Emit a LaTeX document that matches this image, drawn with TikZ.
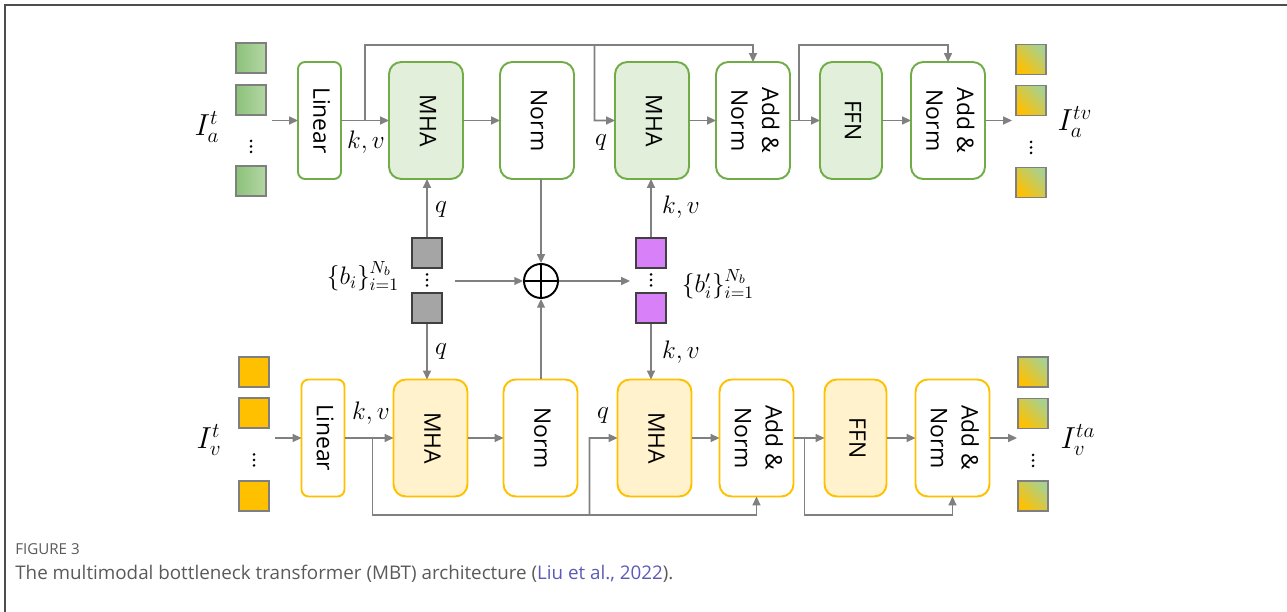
\documentclass[tikz,border=0pt]{standalone}
\usepackage{fontspec}
\setmainfont{Open Sans}
\usepackage{graphicx}
\usepackage{tikz}
\usetikzlibrary{arrows.meta,positioning,calc}
\definecolor{GreenEdge}{HTML}{70AD47}
\definecolor{GreenFill}{HTML}{E2EFDA}
\definecolor{GoldEdge}{HTML}{FFC000}
\definecolor{GoldFill}{HTML}{FFF2CC}
\definecolor{ArrGray}{HTML}{808080}
\definecolor{TokEdge}{HTML}{7F7F7F}
\definecolor{TokGreenL}{HTML}{8CC27A}
\definecolor{TokGreenR}{HTML}{B4D7A4}
\definecolor{TokGreenO}{HTML}{A9D18E}
\definecolor{TokGold}{HTML}{FFC000}
\definecolor{BotGray}{HTML}{A5A5A5}
\definecolor{BotPurple}{HTML}{D780F7}
\definecolor{DarkEdge}{HTML}{404040}
\definecolor{CapGray}{HTML}{5A5A5A}
\definecolor{CiteBlue}{HTML}{5B5BB5}
\definecolor{FrameGray}{HTML}{4D4D4D}
\newcommand{\vlabel}[1]{\rotatebox{-90}{\begin{tabular}{@{}c@{}}#1\end{tabular}}}
\tikzset{
  blk/.style={rounded corners=7pt, line width=1.1pt, minimum height=2.34cm, outer sep=0pt,
              inner sep=0pt, font=\fontsize{13}{17.5}\selectfont},
  linblk/.style={blk, rounded corners=4pt, minimum width=0.86cm},
  midblk/.style={blk, minimum width=1.48cm},
  ffnblk/.style={blk, minimum width=1.24cm},
  grn/.style={draw=GreenEdge, fill=white},
  grnf/.style={draw=GreenEdge, fill=GreenFill},
  gld/.style={draw=GoldEdge, fill=white},
  gldf/.style={draw=GoldEdge, fill=GoldFill},
  tok/.style={draw=TokEdge, line width=1.1pt, minimum size=0.6cm, inner sep=0pt},
  tokg/.style={tok, left color=TokGreenL, right color=TokGreenR},
  toky/.style={tok, fill=TokGold},
  tokmix/.style={tok, left color=TokGold, right color=TokGreenO, shading angle=135},
  btok/.style={draw=DarkEdge, line width=0.8pt, minimum size=0.6cm, inner sep=0pt},
  arr/.style={-{Triangle[length=5pt,width=4.5pt]}, line width=0.9pt, draw=ArrGray},
  lbl/.style={inner sep=0pt, font=\fontsize{14}{16}\selectfont},
  iolbl/.style={inner sep=0pt, font=\fontsize{17}{20}\selectfont}
}

\begin{document}
\begin{tikzpicture}
\useasboundingbox (0,0) rectangle (25.74,12.24);
\draw[FrameGray, line width=1.2pt] (0.10,0) -- (0.10,12.14) -- (25.74,12.14);
% Row 1 (audio tokens)
\node[linblk, grn] (linA) at (6.39,9.83) {\vlabel{Linear}};
\node[midblk, grnf, right=0.96cm of linA] (mhaA1) {\vlabel{MHA}};
\node[midblk, grn, right=0.74cm of mhaA1] (normA) {\vlabel{Norm}};
\node[midblk, grnf, right=0.82cm of normA] (mhaA2) {\vlabel{MHA}};
\node[midblk, grn, right=0.54cm of mhaA2] (addA1) {\vlabel{Add \&\\Norm}};
\node[ffnblk, grnf, right=0.60cm of addA1] (ffnA) {\vlabel{FFN}};
\node[midblk, grn, right=0.58cm of ffnA] (addA2) {\vlabel{Add \&\\Norm}};
% Row 2 (visual tokens)
\node[linblk, gld] (linB) at (6.46,3.48) {\vlabel{Linear}};
\node[midblk, gldf, right=0.98cm of linB] (mhaB1) {\vlabel{MHA}};
\node[midblk, gld, right=0.72cm of mhaB1] (normB) {\vlabel{Norm}};
\node[midblk, gldf, right=0.80cm of normB] (mhaB2) {\vlabel{MHA}};
\node[midblk, gld, right=0.56cm of mhaB2] (addB1) {\vlabel{Add \&\\Norm}};
\node[ffnblk, gldf, right=0.62cm of addB1] (ffnB) {\vlabel{FFN}};
\node[midblk, gld, right=0.58cm of ffnB] (addB2) {\vlabel{Add \&\\Norm}};
% input and output tokens
\node[tokg] (ta1) at (5.02,11.08) {};
\node[tokg] (ta2) at (5.02,10.24) {};
\node[tokg] (ta3) at (5.02,8.62) {};
\node[toky] (tv1) at (5.08,4.80) {};
\node[toky] (tv2) at (5.08,3.98) {};
\node[toky] (tv3) at (5.08,2.32) {};
\node[tokmix] (oa1) at (20.62,11.05) {};
\node[tokmix] (oa2) at (20.62,10.23) {};
\node[tokmix] (oa3) at (20.62,8.59) {};
\node[tokmix] (ov1) at (20.66,4.80) {};
\node[tokmix] (ov2) at (20.66,3.97) {};
\node[tokmix] (ov3) at (20.66,2.32) {};
\node[iolbl] (inLblA) at (4.14,9.70) {$I_a^t$};
\node[iolbl] (inLblB) at (4.18,3.44) {$I_v^t$};
\node[iolbl] (outLblA) at (21.50,9.80) {$I_a^{tv}$};
\node[iolbl] (outLblB) at (21.56,3.44) {$I_v^{ta}$};
% bottleneck tokens
\node[btok, fill=BotGray] (bq1) at (8.54,7.18) {};
\node[btok, fill=BotGray] (bq2) at (8.54,6.08) {};
\node[btok, fill=BotPurple] (bp1) at (13.02,7.18) {};
\node[btok, fill=BotPurple] (bp2) at (13.02,6.08) {};
% vertical dots between tokens
\foreach \x/\y in {5.02/9.31, 5.08/3.04, 20.62/9.29, 20.66/3.03, 8.54/6.64, 13.02/6.64}
  \foreach \d in {-0.11,0,0.11}
    \fill (\x,\y+\d) circle (0.85pt);
\node[circle, draw, line width=1.1pt, minimum size=0.68cm, inner sep=0pt,
      path picture={\draw[line width=1.1pt] (path picture bounding box.north) -- (path picture bounding box.south)
                     (path picture bounding box.west) -- (path picture bounding box.east);}] (sum) at (10.82,6.62) {};
\node[lbl] (bLbl) at (7.26,6.72) {$\{b_i\}_{i=1}^{N_b}$};
\node[lbl] (bpLbl) at (14.36,6.56) {$\{b'_i\}_{i=1}^{N_b}$};
% helper points
\coordinate (topA) at (0,11.34);
\coordinate (botB) at (0,1.94);
\coordinate (inA) at (5.44,9.83);
\coordinate (inB) at (5.50,3.48);
\coordinate (outA) at (20.24,9.83);
\coordinate (outB) at (20.34,3.48);
\coordinate (bIn) at (9.10,6.62);
\coordinate (bOut) at (12.60,6.62);
\coordinate (kvA) at ($(linA.east)!.5!(mhaA1.west)$);
\coordinate (qA) at ($(normA.east)!.5!(mhaA2.west)$);
\coordinate (resA) at ($(addA1.east)!.3!(ffnA.west)$);
\coordinate (kvB) at ($(linB.east)!.57!(mhaB1.west)$);
\coordinate (qB) at ($(normB.east)!.3!(mhaB2.west)$);
\coordinate (resB) at ($(addB1.east)!.35!(ffnB.west)$);
% row 1 flow
\draw[arr] (inA) -- (linA);
\draw[arr] (linA) -- (mhaA1);
\draw[arr] (mhaA1) -- (normA);
\draw[arr] (mhaA2) -- (addA1);
\draw[arr] (addA1) -- (ffnA);
\draw[arr] (ffnA) -- (addA2);
\draw[arr] (addA2) -- (outA);
\draw[arr] (kvA) -- (kvA |- topA) -| (addA1.north);
\draw[arr] (qA |- topA) -- (qA) -- (mhaA2.west);
\draw[arr] (resA) -- (resA |- topA) -| (addA2.north);
% row 2 flow
\draw[arr] (inB) -- (linB);
\draw[arr] (linB) -- (mhaB1);
\draw[arr] (mhaB1) -- (normB);
\draw[arr] (mhaB2) -- (addB1);
\draw[arr] (addB1) -- (ffnB);
\draw[arr] (ffnB) -- (addB2);
\draw[arr] (addB2) -- (outB);
\draw[arr] (kvB) -- (kvB |- botB) -| (addB1.south);
\draw[arr] (qB |- botB) -- (qB) -- (mhaB2.west);
\draw[arr] (resB) -- (resB |- botB) -| (addB2.south);
% bottleneck flow
\draw[arr] (bq1) -- (bq1 |- mhaA1.south);
\draw[arr] (bq2) -- (bq2 |- mhaB1.north);
\draw[arr] (bp1) -- (bp1 |- mhaA2.south);
\draw[arr] (bp2) -- (bp2 |- mhaB2.north);
\draw[arr] (sum |- normA.south) -- (sum);
\draw[arr] (sum |- normB.north) -- (sum);
\draw[arr] (bIn) -- (sum);
\draw[arr] (sum) -- (bOut);
% q, k, v labels
\node[lbl] (kvLblA) at (7.32,9.40) {$k,v$};
\node[lbl] (qLblA) at (12.02,9.38) {$q$};
\node[lbl] (kvLblB) at (7.42,3.98) {$k,v$};
\node[lbl] (qLblB) at (12.06,3.92) {$q$};
\node[lbl] (qUp) at (8.82,8.04) {$q$};
\node[lbl] (qDown) at (8.82,5.20) {$q$};
\node[lbl] (kvUp) at (13.62,8.10) {$k,v$};
\node[lbl] (kvDown) at (13.62,5.20) {$k,v$};
% caption
\node[anchor=base west, inner sep=0pt, font=\fontsize{8.6}{10}\selectfont, text=CapGray] (figNo) at (0.30,1.14) {FIGURE 3};
\node[anchor=base west, inner sep=0pt, font=\fontsize{10.7}{13}\selectfont, text=CapGray] (capText) at (0.30,0.64)
  {The multimodal bottleneck transformer (MBT) architecture (\textcolor{CiteBlue}{Liu et al., 2022}).};
\end{tikzpicture}
\end{document}
